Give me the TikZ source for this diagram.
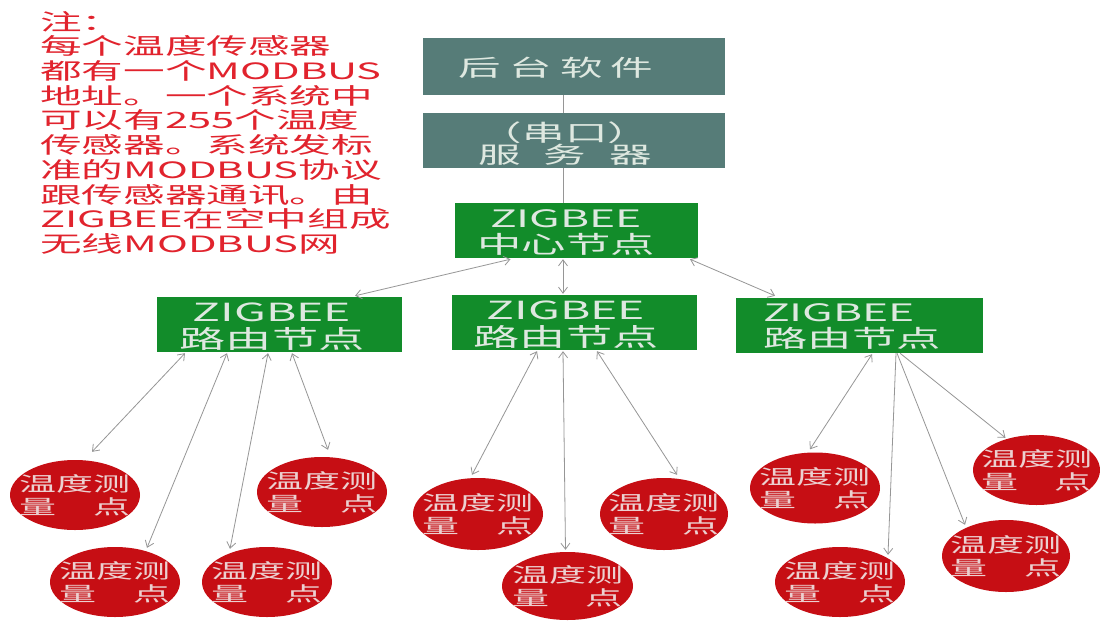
\documentclass[tikz,border=0pt]{standalone}
\usepackage{fontspec}
\usetikzlibrary{arrows.meta,shapes.geometric,calc}
\newfontfamily\cjk[FakeStretch=1.85]{Noto Sans CJK SC}
\definecolor{notered}{RGB}{225,35,45}
\definecolor{boxgray}{RGB}{86,124,120}
\definecolor{boxgreen}{RGB}{18,140,42}
\definecolor{ellred}{RGB}{198,14,20}
\definecolor{linegray}{RGB}{150,150,150}
\definecolor{boxtext}{RGB}{222,232,224}
\definecolor{elltext}{RGB}{236,208,208}
\tikzset{
  srvbox/.style={fill=boxgray, draw=none, inner sep=0pt},
  zbbox/.style={fill=boxgreen, draw=none, inner sep=0pt},
  boxlbl/.style={text=boxtext, inner sep=0pt, align=center},
  elllbl/.style={text=elltext, inner sep=0pt, align=center, font=\cjk\fontsize{20}{23}\selectfont},
  tpoint/.style={ellipse, fill=ellred, draw=none, inner sep=0pt,
     minimum width=130pt, minimum height=70pt,
     label={[elllbl]center:{温度测\\量\hphantom{度}点}}},
  link/.style={draw=linegray, line width=0.8pt},
  both/.style={link, {Straight Barb[length=6pt,width=9pt]}-{Straight Barb[length=6pt,width=9pt]}},
  one/.style={link, -{Straight Barb[length=6pt,width=9pt]}}
}
\begin{document}
\begin{tikzpicture}[x=1pt,y=-1pt]
\useasboundingbox[fill=white] (0,0) rectangle (1100,621);

% note
\node[anchor=north west, inner sep=0pt, align=left, text=notered,
      font=\cjk\fontsize{22.5}{24.7}\selectfont] (note) at (40,11)
 {注：\\每个温度传感器\\都有一个MODBUS\\地址。一个系统中\\可以有255个温度\\传感器。系统发标\\准的MODBUS协议\\跟传感器通讯。由\\ZIGBEE在空中组成\\无线MODBUS网};

% boxes
\node[srvbox, minimum width=302pt, minimum height=57pt] (bg) at (574,66.5) {};
\node[boxlbl, font=\cjk\fontsize{23}{23}\selectfont] (bgt) at (556,68) {后\hspace{8pt}台\hspace{8pt}软\hspace{8pt}件};
\node[srvbox, minimum width=302pt, minimum height=55pt] (srv) at (574,140.5) {};
\node[boxlbl, font=\cjk\fontsize{23}{22}\selectfont] (srvt) at (565,144) {（串口）\\服\hspace{23pt}务\hspace{23pt}器};

\node[zbbox, minimum width=243pt, minimum height=55pt] (ctr) at (576.5,230.5) {};
\node[boxlbl, font=\cjk\fontsize{24}{26}\selectfont] (ctrt) at (566,232) {ZIGBEE\\中心节点};

\node[zbbox, minimum width=245pt, minimum height=55pt] (lr) at (279.5,324.5) {};
\node[boxlbl, font=\cjk\fontsize{25}{27}\selectfont] (lrt) at (272,327) {ZIGBEE\\路由节点};
\node[zbbox, minimum width=245pt, minimum height=55pt] (mr) at (574.5,322.5) {};
\node[boxlbl, font=\cjk\fontsize{25}{27}\selectfont] (mrt) at (566,325) {ZIGBEE\\路由节点};
\node[zbbox, minimum width=247pt, minimum height=55pt] (rr) at (859.5,325.5) {};
\node[boxlbl, align=left, anchor=west, font=\cjk\fontsize{24}{26}\selectfont] (rrt) at (763,327) {ZIGBEE\\路由节点};

% measurement points
\node[tpoint] (e1) at (75,495) {};
\node[tpoint] (e2) at (115,582) {};
\node[tpoint] (e3) at (322,492) {};
\node[tpoint] (e4) at (267,582) {};
\node[tpoint, minimum height=72pt] (e5) at (478,514) {};
\node[tpoint, minimum width=131pt, minimum height=68pt] (e6) at (567.5,586) {};
\node[tpoint, minimum width=128pt, minimum height=72pt] (e7) at (664,514) {};
\node[tpoint, minimum height=71pt] (e8) at (815,488) {};
\node[tpoint] (e9) at (840,582) {};
\node[tpoint, minimum width=127pt] (e10) at (1036.5,470) {};
\node[tpoint, minimum width=128pt, minimum height=72pt] (e11) at (1006,556) {};

% connectors
\draw[link] ($(bg.south)+(-11,0)$) -- ($(srv.north)+(-11,0)$);
\draw[link] ($(srv.south)+(-11,0)$) -- ($(ctr.north)+(-13.5,0)$);
\draw[both] ($(ctr.south)+(-66,1)$) -- ($(lr.north)+(75.5,-1)$);
\draw[both] ($(ctr.south)+(-13.5,1)$) -- ($(mr.north)+(-11.5,-1)$);
\draw[both] ($(ctr.south)+(113.5,1)$) -- ($(rr.north)+(-84.5,-2)$);

\draw[both] ($(lr.south)+(-94.5,1)$) -- ($(e1.north)+(17,-8)$);
\draw[both] ($(lr.south)+(-52.5,1)$) -- ($(e2.north)+(32,1)$);
\draw[both] ($(lr.south)+(-11.5,1)$) -- ($(e4.north)+(-37,2)$);
\draw[both] ($(lr.south)+(12.5,1)$) -- ($(e3.north)+(6,-7)$);

\draw[both] ($(mr.south)+(-37.5,1)$) -- ($(e5.north)+(-6,-3)$);
\draw[both] ($(mr.south)+(-11.5,1)$) -- ($(e6.north)+(-2,-2)$);
\draw[both] ($(mr.south)+(22.5,1)$) -- ($(e7.north)+(13,-3)$);

\draw[both] ($(rr.south)+(12.5,1)$) -- ($(e8.north)+(-5,-3)$);
\draw[one] ($(rr.south)+(36.5,0)$) -- ($(e9.north)+(48,8)$);
\draw[one] ($(rr.south)+(37.5,0)$) -- ($(e11.north)+(-41,5)$);
\draw[one] ($(rr.south)+(40.5,0)$) -- ($(e10.north)+(-31,3)$);
\end{tikzpicture}
\end{document}
